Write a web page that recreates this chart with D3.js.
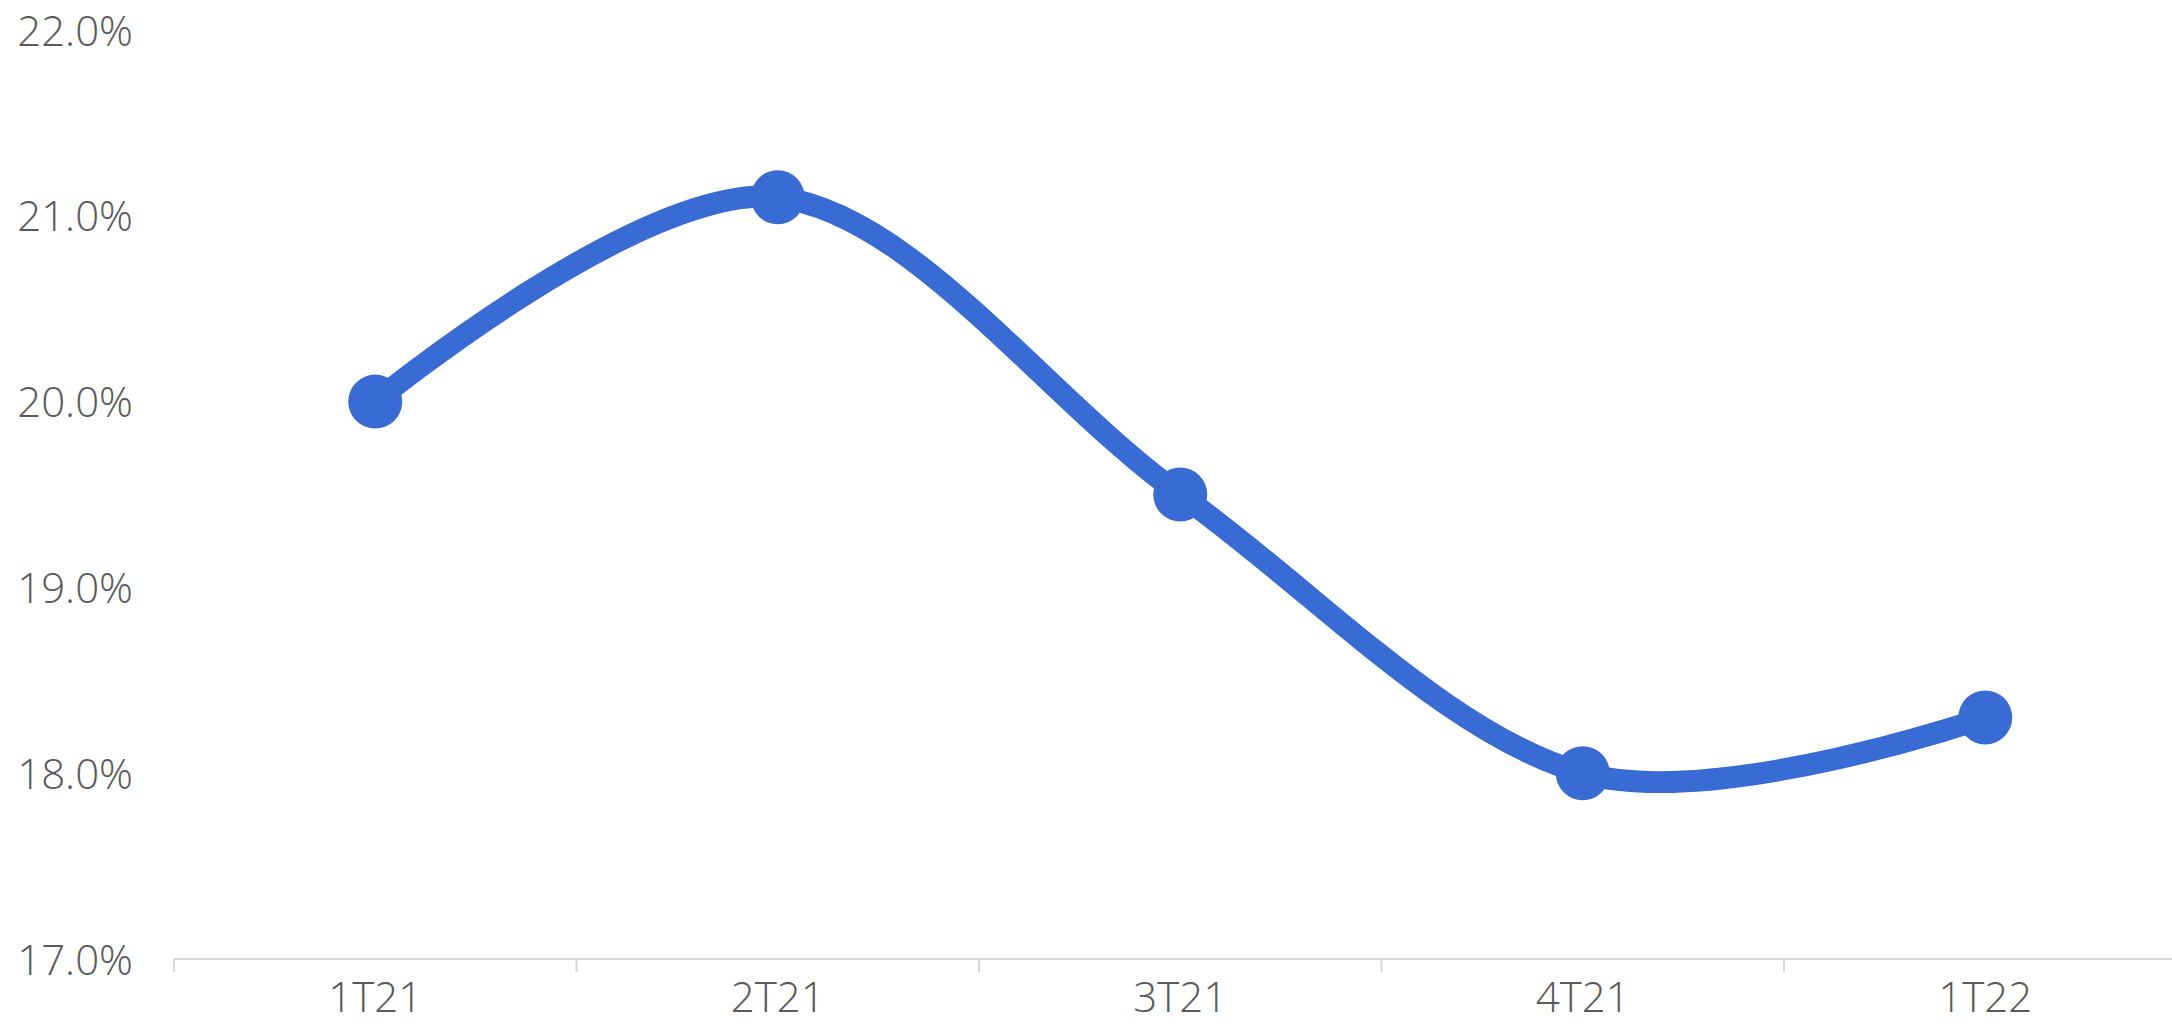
<!DOCTYPE html>
<html>
<head>
<meta charset="utf-8">
<script src="https://cdn.jsdelivr.net/npm/d3@7"></script>
<style>
  html, body { margin: 0; padding: 0; background: #ffffff; }
  svg { display: block; }
  text { font-family: "Open Sans", "Segoe UI", sans-serif; font-weight: 300; fill: #595959; }
</style>
</head>
<body>
<svg id="chart" width="2172" height="1034"></svg>
<script>
const categories = ["1T21", "2T21", "3T21", "4T21", "1T22"];
const values = [20.0, 21.1, 19.5, 18.0, 18.3];
const yTicks = [17, 18, 19, 20, 21, 22];

const W = 2172, H = 1034;
const svg = d3.select("#chart");

const x = d3.scaleBand().domain(categories).range([174, 174 + 5 * 402.5]).paddingInner(0).paddingOuter(0);
const y = d3.scaleLinear().domain([17, 22]).range([959, 30]);

// Y axis labels (no axis line)
const yAxis = svg.append("g").attr("transform", "translate(133,0)")
  .call(d3.axisLeft(y).tickValues(yTicks).tickSize(0).tickPadding(0).tickFormat(d => d3.format(".1f")(d) + "%"));
yAxis.select(".domain").remove();
yAxis.selectAll("text").attr("font-size", 42).attr("dy", "0.36em")
  .style("font-family", '"Open Sans", sans-serif').style("font-weight", 300).attr("fill", "#595959");

// X axis
const xAxisG = svg.append("g").attr("transform", `translate(0,${y(17)})`);
xAxisG.append("line").attr("x1", x.range()[0]).attr("x2", W).attr("y1", 0).attr("y2", 0)
  .attr("stroke", "#d9d9d9").attr("stroke-width", 2);
xAxisG.selectAll("line.tick").data(categories).enter().append("line").attr("class", "tick")
  .attr("x1", d => x(d)).attr("x2", d => x(d)).attr("y1", 0).attr("y2", 13)
  .attr("stroke", "#d9d9d9").attr("stroke-width", 2);
xAxisG.selectAll("text").data(categories).enter().append("text")
  .attr("x", d => x(d) + x.bandwidth() / 2).attr("y", 53)
  .attr("text-anchor", "middle").attr("font-size", 42).text(d => d);

// Line
const pts = categories.map((c, i) => [x(c) + x.bandwidth() / 2, y(values[i])]);
const line = d3.line().curve(d3.curveCardinal.tension(0));
svg.append("path").attr("d", line(pts)).attr("fill", "none")
  .attr("stroke", "#386BD3").attr("stroke-width", 22).attr("stroke-linejoin", "round");

svg.selectAll("circle.pt").data(pts).enter().append("circle").attr("class", "pt")
  .attr("cx", d => d[0]).attr("cy", d => d[1]).attr("r", 27).attr("fill", "#386BD3");
</script>
</body>
</html>
